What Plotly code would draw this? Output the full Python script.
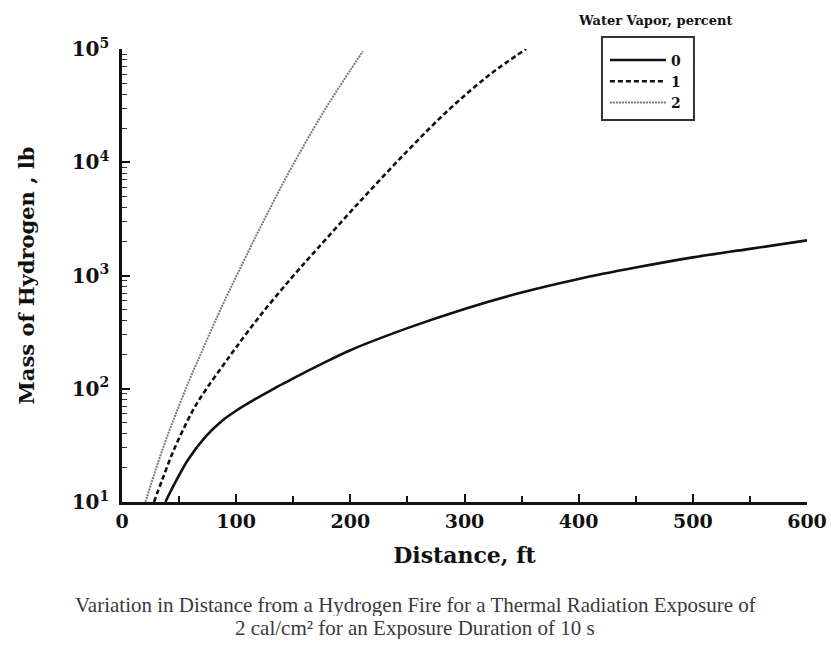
import plotly.graph_objects as go

# Water vapor 0 %
x0 = [38, 47, 58, 73, 88, 102, 117, 132, 146, 161, 175, 200, 250, 300, 350, 400, 450, 500, 550, 600]
y0 = [10, 15.1, 23.7, 37.6, 52.5, 66, 81.3, 98.9, 117.5, 141, 166, 219, 343, 507, 708, 933, 1175, 1445, 1718, 2042]
# Water vapor 1 %
x1 = [28, 35, 45, 57, 65, 74, 88, 100, 121, 149, 171, 209, 250, 288, 323, 354]
y1 = [10, 15.5, 28.2, 51.3, 72.4, 100, 158, 232, 442, 966, 1718, 4571, 12590, 30200, 60260, 100000]
# Water vapor 2 %
x2 = [20.5, 30, 40, 50, 60, 70, 80, 90, 100, 115, 130, 145, 160, 175, 190, 211]
y2 = [10, 20, 38.9, 70.8, 126, 214, 363, 603, 977, 1995, 3981, 7762, 14450, 26300, 45700, 95500]

x_ticks = [0, 100, 200, 300, 400, 500, 600]
y_tickvals = [10, 100, 1000, 10000, 100000]
y_ticktext = ["10<sup>1</sup>", "10<sup>2</sup>", "10<sup>3</sup>", "10<sup>4</sup>", "10<sup>5</sup>"]

SERIF = "DejaVu Serif"
INK = "#111111"

fig = go.Figure()
fig.add_trace(go.Scatter(x=x0, y=y0, name="0", mode="lines", line_shape="spline",
                         line=dict(color=INK, width=2.6)))
fig.add_trace(go.Scatter(x=x1, y=y1, name="1", mode="lines", line_shape="spline",
                         line=dict(color=INK, width=2.6, dash="5px,3px")))
fig.add_trace(go.Scatter(x=x2, y=y2, name="2", mode="lines", line_shape="spline",
                         line=dict(color="#7a7a7a", width=2, dash="2px,1px")))

fig.update_layout(
    width=831, height=648,
    margin=dict(l=122, r=24, t=49, b=146, autoexpand=False),
    paper_bgcolor="white", plot_bgcolor="white",
    showlegend=True,
    legend=dict(x=0.705, y=1.01, xanchor="left", yanchor="top",
                borderwidth=0, bgcolor="rgba(0,0,0,0)",
                font=dict(family=SERIF, size=14, color=INK, weight="bold"),
                itemwidth=56, tracegroupgap=0),
    font=dict(family=SERIF, color=INK),
)
fig.update_xaxes(range=[0, 600], tickvals=x_ticks, ticks="inside", ticklen=8, tickwidth=1.5,
                 tickcolor=INK, showline=True, linecolor=INK, linewidth=2.5,
                 showgrid=False, zeroline=False, automargin=False,
                 minor=dict(dtick=50, ticks="inside", ticklen=6, tickwidth=1.5, tickcolor=INK, showgrid=False),
                 tickfont=dict(family=SERIF, size=19, color=INK, weight="bold"),
                 title=dict(text="Distance, ft", standoff=18,
                            font=dict(family=SERIF, size=22, color=INK, weight="bold")))
fig.update_yaxes(type="log", range=[1, 5], tickvals=y_tickvals, ticktext=y_ticktext,
                 ticks="inside", ticklen=8, tickwidth=1.5, tickcolor=INK,
                 showline=True, linecolor=INK, linewidth=2.5,
                 showgrid=False, zeroline=False, automargin=False, ticklabelstandoff=6,
                 minor=dict(dtick="D1", ticks="inside", ticklen=5, tickwidth=1.2, tickcolor="#333333", showgrid=False),
                 tickfont=dict(family=SERIF, size=20, color=INK, weight="bold"),
                 title=dict(text="Mass of Hydrogen , lb", standoff=32,
                            font=dict(family=SERIF, size=21, color=INK, weight="bold")))

# legend frame
fig.add_shape(type="rect", xref="paper", yref="paper", x0=0.7007, x1=0.835, y0=0.843, y1=1.0265,
              line=dict(color="#333333", width=2), fillcolor="rgba(0,0,0,0)", layer="above")
fig.add_annotation(xref="paper", yref="paper", x=0.778, y=1.043, xanchor="center", yanchor="bottom",
                   text="Water Vapor, percent", showarrow=False,
                   font=dict(family=SERIF, size=13, color=INK, weight="bold"))
fig.add_annotation(xref="paper", yref="paper", x=0.428, y=-0.227, xanchor="center", yanchor="middle",
                   text="Variation in Distance from a Hydrogen Fire for a Thermal Radiation Exposure of",
                   showarrow=False, height=22,
                   font=dict(family="Liberation Serif", size=21, color="#3a3a3a"))
fig.add_annotation(xref="paper", yref="paper", x=0.428, y=-0.278, xanchor="center", yanchor="middle",
                   text="2 cal/cm² for an Exposure Duration of 10 s",
                   showarrow=False, height=22,
                   font=dict(family="Liberation Serif", size=21, color="#3a3a3a"))

fig.write_html("out.html")
